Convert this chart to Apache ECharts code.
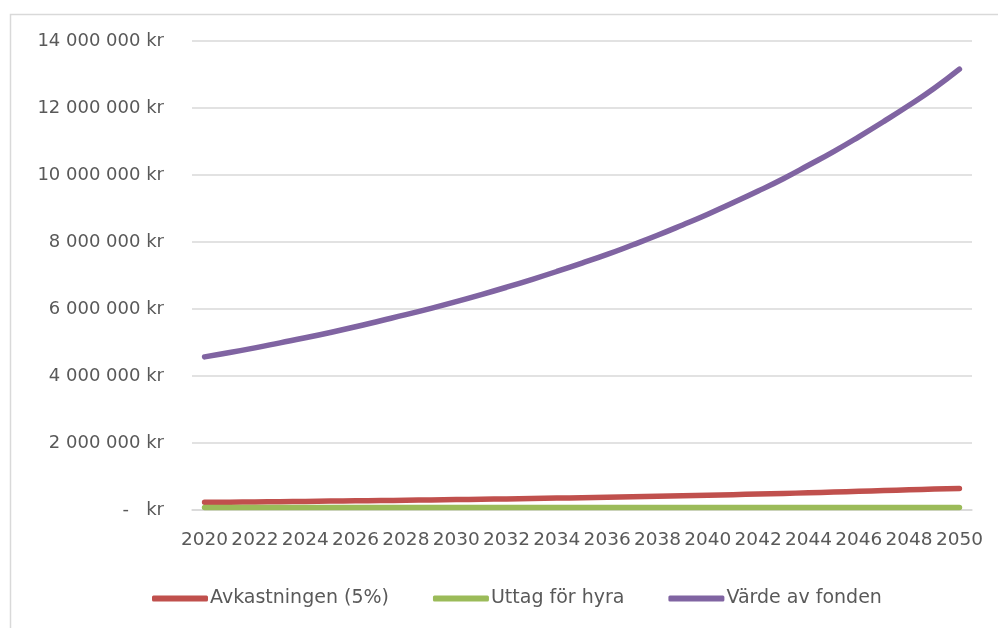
<!DOCTYPE html>
<html>
<head>
<meta charset="utf-8">
<script src="https://cdn.jsdelivr.net/npm/echarts@6/dist/echarts.min.js"></script>
<style>
html,body{margin:0;padding:0;background:#fff;}
#c{width:998px;height:628px;}
</style>
</head>
<body>
<div id="c"></div>
<script>
var years = ['2020','2021','2022','2023','2024','2025','2026','2027','2028','2029','2030','2031','2032','2033','2034','2035','2036','2037','2038','2039','2040','2041','2042','2043','2044','2045','2046','2047','2048','2049','2050'];
var avkastning = [229000,235000,242000,249000,257000,265000,273000,282000,291000,301000,311000,321000,332000,344000,356000,368000,381000,395000,410000,425000,441000,458000,476000,494000,514000,535000,557000,580000,604000,625000,640000];
var uttag = [75000,75000,75000,75000,75000,75000,75000,75000,75000,75000,75000,75000,75000,75000,75000,75000,75000,75000,75000,75000,75000,75000,75000,75000,75000,75000,75000,75000,75000,75000,75000];
var varde = [4570000,4700000,4840000,4990000,5140000,5300000,5470000,5650000,5830000,6020000,6220000,6430000,6650000,6880000,7120000,7370000,7630000,7910000,8200000,8510000,8830000,9170000,9520000,9890000,10290000,10700000,11140000,11600000,12080000,12590000,13160000];
var yTickLabels = ['-   kr','2 000 000 kr','4 000 000 kr','6 000 000 kr','8 000 000 kr','10 000 000 kr','12 000 000 kr','14 000 000 kr'];
var seriesNames = ['Avkastningen (5%)','Uttag för hyra','Värde av fonden'];

var chart = echarts.init(document.getElementById('c'));
var font = 'DejaVu Sans';
var textColor = '#595959';
function mkSeries(name, data, color) {
  return {
    name: name, type: 'line', data: data, smooth: true, showSymbol: false, symbol: 'none',
    lineStyle: {width: 5.5, color: color, cap: 'round', join: 'round'},
    itemStyle: {color: color},
    emphasis: {disabled: true}
  };
}
chart.setOption({
  animation: false,
  backgroundColor: '#fff',
  graphic: [{
    type: 'rect', left: 8, top: 12, silent: true,
    shape: {width: 995, height: 620},
    style: {fill: 'none', stroke: '#d9d9d9', lineWidth: 1.5}
  }],
  grid: {left: 192, right: 26, top: 41, bottom: 118, containLabel: false},
  xAxis: {
    type: 'category', data: years, boundaryGap: true,
    axisLine: {lineStyle: {color: '#d9d9d9', width: 1.5}},
    axisTick: {show: false},
    axisLabel: {interval: 1, color: textColor, fontFamily: font, fontSize: 18.5, margin: 21, hideOverlap: false}
  },
  yAxis: {
    type: 'value', min: 0, max: 14000000, interval: 2000000,
    axisLine: {show: false}, axisTick: {show: false},
    splitLine: {lineStyle: {color: '#d9d9d9', width: 1.5}},
    axisLabel: {
      color: textColor, fontFamily: font, fontSize: 18, margin: 28,
      formatter: function (v) { return yTickLabels[Math.round(v / 2000000)]; }
    }
  },
  legend: {
    data: seriesNames, left: 147, top: 584, itemWidth: 56, itemHeight: 6, itemGap: 44,
    icon: 'roundRect',
    textStyle: {color: textColor, fontFamily: font, fontSize: 19, padding: [0,0,0,-3]}
  },
  series: [
    mkSeries(seriesNames[0], avkastning, '#c0504d'),
    mkSeries(seriesNames[1], uttag, '#9bbb59'),
    mkSeries(seriesNames[2], varde, '#8064a2')
  ]
});
</script>
</body>
</html>
